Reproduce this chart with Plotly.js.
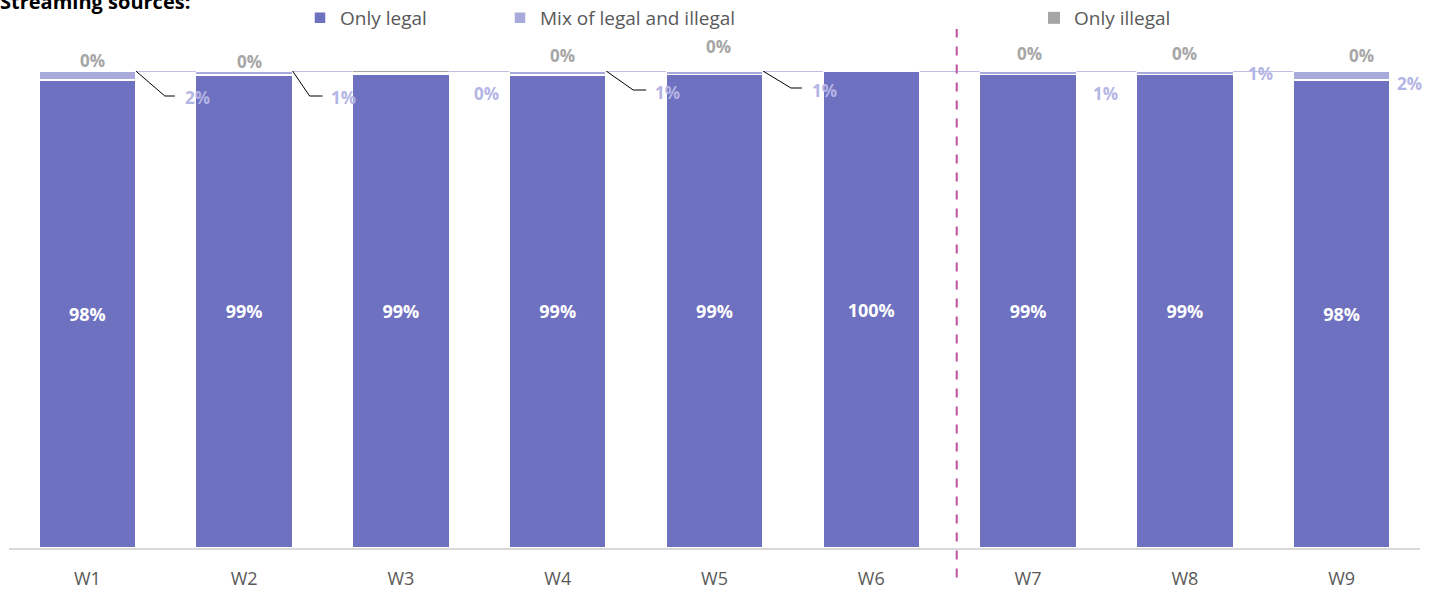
<!DOCTYPE html>
<html>
<head>
<meta charset="utf-8">
<script src="https://cdn.plot.ly/plotly-3.0.1.min.js"></script>
<style>html,body{margin:0;padding:0;background:#fff}#chart{width:1439px;height:589px}</style>
</head>
<body>
<div id="chart"></div>
<script>
// ---- data ----
var categories = ['W1','W2','W3','W4','W5','W6','W7','W8','W9'];
var onlyLegal  = [98.1, 99.2, 99.4, 99.2, 99.3, 100, 99.3, 99.3, 98.1];
var mixLegalIllegal = [1.9, 0.8, 0.4, 0.8, 0.7, 0, 0.7, 0.7, 1.9];
var onlyIllegal = [0, 0, 0.2, 0, 0, 0, 0, 0, 0];
var seriesNames = ['Only legal', 'Mix of legal and illegal', 'Only illegal'];
var titleText = 'Streaming sources:';

// ---- label placement (pixel offsets from bar centre / top) ----
var mixLabelOffsets = [[110,-26],[99,-26],[86,-22],[110,-21],[110,-19],null,[77,-22],[76,-2],[68,-12]];
var illLabelOffsets = [[5,11],[5,10],[5,13],[5,16],[4,25],null,[1,18],[0,18],[20,16]];
// leader lines: [category index, pixel path relative to bar's right top corner]
var leaders = [
  [0, 'M0,0 L29,-25 L39,-25'],
  [1, 'M0,0 L17,-25 L30,-25'],
  [3, 'M0,0 L27,-19 L40,-19'],
  [4, 'M0,0 L28,-17 L39,-17'],
  [4, 'M0,0 L-11,25 L-22,25'],
  [6, 'M0,0 L-10,19 L-24,19']
];

var C_LEGAL = '#6E70C0', C_MIX = '#A9AADC', C_ILL = '#A5A5A5';
var FONT = 'Open Sans, Noto Sans, sans-serif';
var BARGAP = 0.382, HALF = (1 - BARGAP) / 2;

function pct(v){ return Math.round(v) + '%'; }

var traces = [
  {type:'bar', name:seriesNames[0], x:categories, y:onlyLegal, legend:'legend',
   marker:{color:C_LEGAL, line:{color:'#ffffff', width:1.5}},
   text:onlyLegal.map(pct), textposition:'inside', insidetextanchor:'middle',
   textfont:{family:FONT, size:18, color:'#ffffff', weight:'bold'}, hoverinfo:'x+y'},
  {type:'bar', name:seriesNames[1], x:categories, y:mixLegalIllegal, legend:'legend2',
   marker:{color:C_MIX, line:{color:'#ffffff', width:1.5}}, hoverinfo:'x+y'},
  {type:'bar', name:seriesNames[2], x:categories, y:onlyIllegal, legend:'legend3',
   marker:{color:C_ILL, line:{color:'#ffffff', width:0}}, hoverinfo:'x+y'}
];

var annotations = [];
var shapes = [];
var tops = categories.map(function(c,i){ return onlyLegal[i] + mixLegalIllegal[i] + onlyIllegal[i]; });

categories.forEach(function(c,i){
  var m = mixLabelOffsets[i];
  if (m) annotations.push({x:i, y:onlyLegal[i]+mixLegalIllegal[i], xref:'x', yref:'y', text:pct(mixLegalIllegal[i]),
    showarrow:false, xshift:m[0], yshift:m[1], font:{family:FONT, size:17, color:'#B4B5E4', weight:'bold'}});
  var q = illLabelOffsets[i];
  if (q) annotations.push({x:i, y:tops[i], xref:'x', yref:'y', text:pct(onlyIllegal[i]),
    showarrow:false, xshift:q[0], yshift:q[1], font:{family:FONT, size:17, color:'#A6A6A6', weight:'bold'}});
});

// series lines connecting bar tops
for (var i = 0; i < categories.length - 1; i++) {
  shapes.push({type:'line', xref:'x', yref:'y', x0:i+HALF, x1:i+1-HALF, y0:tops[i], y1:tops[i+1],
    line:{color:'#8082CA', width:1.2}, layer:'above'});
}
// leader lines
leaders.forEach(function(L){
  var i = L[0];
  shapes.push({type:'path', xref:'x', yref:'y', xsizemode:'pixel', ysizemode:'pixel',
    xanchor:i+HALF, yanchor:tops[i], path:L[1], line:{color:'#000000', width:1}, layer:'above'});
});
// divider between W6 and W7
shapes.push({type:'line', xref:'x', yref:'paper', x0:5.545, x1:5.545, y0:-0.062, y1:1.088,
  line:{color:'#C0509B', width:2, dash:'dash'}, layer:'above'});

var legendBase = {orientation:'h', xref:'container', yref:'container', yanchor:'middle', xanchor:'left',
  y:1-18/589, font:{family:FONT, size:19, color:'#595959'}, bgcolor:'rgba(0,0,0,0)', borderwidth:0};

var layout = {
  width:1439, height:589,
  margin:{l:9, r:19, t:71, b:41},
  paper_bgcolor:'#ffffff', plot_bgcolor:'#ffffff',
  barmode:'stack', bargap:BARGAP,
  showlegend:true,
  title:{text:'<b>'+titleText+'</b>', x:0, xref:'container', xanchor:'left', y:1-2/589, yref:'container', yanchor:'middle',
    font:{family:FONT, size:20, color:'#000000'}, pad:{l:0,t:0,r:0,b:0}},
  xaxis:{type:'category', range:[-0.5, 8.5], showline:true, linecolor:'#D9D9D9', linewidth:1.5,
    ticks:'', showgrid:false, zeroline:false, tickfont:{family:FONT, size:18, color:'#595959'}, ticklabelstandoff:14},
  yaxis:{range:[0,100], visible:false, showgrid:false, zeroline:false, fixedrange:true},
  legend:Object.assign({}, legendBase, {x:300/1439}),
  legend2:Object.assign({}, legendBase, {x:500/1439}),
  legend3:Object.assign({}, legendBase, {x:1034/1439}),
  annotations:annotations,
  shapes:shapes
};

Plotly.newPlot('chart', traces, layout, {displayModeBar:false, staticPlot:true});
</script>
</body>
</html>
